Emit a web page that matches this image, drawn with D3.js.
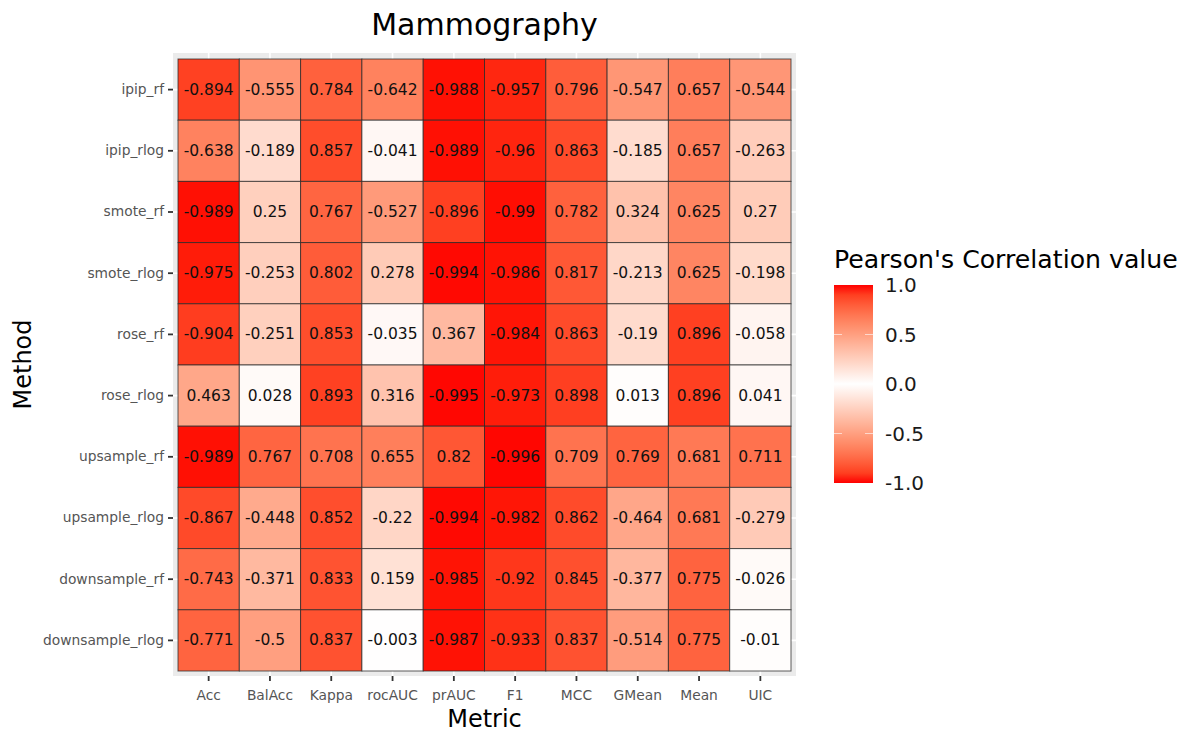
<!DOCTYPE html>
<html>
<head>
<meta charset="utf-8">
<script src="https://cdn.jsdelivr.net/npm/d3@7"></script>
<style>
  html, body { margin: 0; padding: 0; background: #fff; }
  svg { display: block; font-family: "DejaVu Sans", sans-serif; }
</style>
</head>
<body>
<svg id="chart" width="1189" height="733"></svg>
<script>
// Resampling methods (rows, top to bottom) and evaluation metrics (columns)
const methods = ["ipip_rf", "ipip_rlog", "smote_rf", "smote_rlog", "rose_rf",
                 "rose_rlog", "upsample_rf", "upsample_rlog", "downsample_rf", "downsample_rlog"];
const metrics = ["Acc", "BalAcc", "Kappa", "rocAUC", "prAUC", "F1", "MCC", "GMean", "Mean", "UIC"];

// Pearson correlation per method, one value per metric
const ipipRf         = [-0.894, -0.555, 0.784, -0.642, -0.988, -0.957, 0.796, -0.547, 0.657, -0.544];
const ipipRlog       = [-0.638, -0.189, 0.857, -0.041, -0.989, -0.96, 0.863, -0.185, 0.657, -0.263];
const smoteRf        = [-0.989, 0.25, 0.767, -0.527, -0.896, -0.99, 0.782, 0.324, 0.625, 0.27];
const smoteRlog      = [-0.975, -0.253, 0.802, 0.278, -0.994, -0.986, 0.817, -0.213, 0.625, -0.198];
const roseRf         = [-0.904, -0.251, 0.853, -0.035, 0.367, -0.984, 0.863, -0.19, 0.896, -0.058];
const roseRlog       = [0.463, 0.028, 0.893, 0.316, -0.995, -0.973, 0.898, 0.013, 0.896, 0.041];
const upsampleRf     = [-0.989, 0.767, 0.708, 0.655, 0.82, -0.996, 0.709, 0.769, 0.681, 0.711];
const upsampleRlog   = [-0.867, -0.448, 0.852, -0.22, -0.994, -0.982, 0.862, -0.464, 0.681, -0.279];
const downsampleRf   = [-0.743, -0.371, 0.833, 0.159, -0.985, -0.92, 0.845, -0.377, 0.775, -0.026];
const downsampleRlog = [-0.771, -0.5, 0.837, -0.003, -0.987, -0.933, 0.837, -0.514, 0.775, -0.01];

const legendTicks = [1.0, 0.5, 0.0, -0.5, -1.0];

const rows = [ipipRf, ipipRlog, smoteRf, smoteRlog, roseRf,
              roseRlog, upsampleRf, upsampleRlog, downsampleRf, downsampleRlog];
const cells = [];
rows.forEach((vals, i) => vals.forEach((v, j) => cells.push({ method: methods[i], metric: metrics[j], value: v })));

const svg = d3.select("#chart");

// Panel geometry
const panel = { left: 173, top: 53, right: 796, bottom: 676 };
const inset = 5;

const x = d3.scaleBand().domain(metrics).range([panel.left + inset, panel.right - inset]);
const y = d3.scaleBand().domain(methods).range([panel.top + inset + 1, panel.bottom - inset]);

const color = d3.scaleLinear()
  .domain([-1, 0, 1])
  .range(["#ff0000", "#ffffff", "#ff0000"])
  .interpolate(d3.interpolateLab);

// Panel background and grid
svg.append("rect")
  .attr("x", panel.left).attr("y", panel.top)
  .attr("width", panel.right - panel.left).attr("height", panel.bottom - panel.top)
  .attr("fill", "#ebebeb");

const grid = svg.append("g").attr("stroke", "#ffffff").attr("stroke-width", 1.6);
grid.selectAll("line.gx").data(metrics).join("line")
  .attr("x1", d => x(d) + x.bandwidth() / 2).attr("x2", d => x(d) + x.bandwidth() / 2)
  .attr("y1", panel.top).attr("y2", panel.bottom);
grid.selectAll("line.gy").data(methods).join("line")
  .attr("y1", d => y(d) + y.bandwidth() / 2).attr("y2", d => y(d) + y.bandwidth() / 2)
  .attr("x1", panel.left).attr("x2", panel.right);

// Tiles
svg.append("g").selectAll("rect").data(cells).join("rect")
  .attr("x", d => x(d.metric)).attr("y", d => y(d.method))
  .attr("width", x.bandwidth()).attr("height", y.bandwidth())
  .attr("fill", d => color(d.value))
  .attr("stroke", "rgba(40,40,40,0.75)")
  .attr("stroke-width", 1);

// Cell labels
svg.append("g").selectAll("text").data(cells).join("text")
  .attr("x", d => x(d.metric) + x.bandwidth() / 2)
  .attr("y", d => y(d.method) + y.bandwidth() / 2)
  .attr("text-anchor", "middle")
  .attr("dominant-baseline", "central")
  .attr("font-size", 15.5)
  .attr("fill", "#111")
  .text(d => String(d.value));

// Axes
const xAxis = svg.append("g")
  .attr("transform", `translate(0,${panel.bottom})`)
  .call(d3.axisBottom(x).tickSize(5).tickPadding(9));
const yAxis = svg.append("g")
  .attr("transform", `translate(${panel.left},0)`)
  .call(d3.axisLeft(y).tickSize(5).tickPadding(4));
[xAxis, yAxis].forEach(g => {
  g.select(".domain").remove();
  g.selectAll(".tick line").attr("stroke", "#333").attr("stroke-width", 1.8);
  g.selectAll(".tick text").attr("fill", "#555").attr("font-size", 13.8)
    .attr("font-family", "DejaVu Sans, sans-serif");
});

// Titles
svg.append("text")
  .attr("x", (panel.left + panel.right) / 2).attr("y", 35)
  .attr("text-anchor", "middle").attr("font-size", 30).attr("fill", "#000")
  .text("Mammography");
svg.append("text")
  .attr("x", (panel.left + panel.right) / 2).attr("y", 727)
  .attr("text-anchor", "middle").attr("font-size", 24).attr("fill", "#000")
  .text("Metric");
svg.append("text")
  .attr("transform", `translate(31,${(panel.top + panel.bottom) / 2}) rotate(-90)`)
  .attr("text-anchor", "middle").attr("font-size", 24).attr("fill", "#000")
  .text("Method");

// Colour bar legend
const bar = { x: 834, y: 285, w: 39, h: 198 };
const ly = d3.scaleLinear().domain([1, -1]).range([bar.y, bar.y + bar.h]);

const defs = svg.append("defs");
const grad = defs.append("linearGradient").attr("id", "corrGrad")
  .attr("x1", 0).attr("y1", 0).attr("x2", 0).attr("y2", 1);
d3.range(0, 1.0001, 0.05).forEach(t => {
  grad.append("stop").attr("offset", t).attr("stop-color", color(ly.invert(bar.y + t * bar.h)));
});

svg.append("text")
  .attr("x", 834).attr("y", 268)
  .attr("font-size", 25.2).attr("fill", "#000")
  .text("Pearson's Correlation value");

svg.append("rect")
  .attr("x", bar.x).attr("y", bar.y).attr("width", bar.w).attr("height", bar.h)
  .attr("fill", "url(#corrGrad)");

const lt = svg.append("g");
lt.selectAll("line.l").data(legendTicks.slice(1, -1)).join("line")
  .attr("x1", bar.x).attr("x2", bar.x + 8)
  .attr("y1", d => ly(d)).attr("y2", d => ly(d))
  .attr("stroke", "#fff").attr("stroke-opacity", 0.6).attr("stroke-width", 1);
lt.selectAll("line.r").data(legendTicks.slice(1, -1)).join("line")
  .attr("x1", bar.x + bar.w - 8).attr("x2", bar.x + bar.w)
  .attr("y1", d => ly(d)).attr("y2", d => ly(d))
  .attr("stroke", "#fff").attr("stroke-opacity", 0.6).attr("stroke-width", 1);
lt.selectAll("text").data(legendTicks).join("text")
  .attr("x", 885).attr("y", d => ly(d))
  .attr("dominant-baseline", "central")
  .attr("font-size", 20).attr("fill", "#1a1a1a")
  .text(d => d3.format(".1f")(d).replace("−", "-"));
</script>
</body>
</html>
